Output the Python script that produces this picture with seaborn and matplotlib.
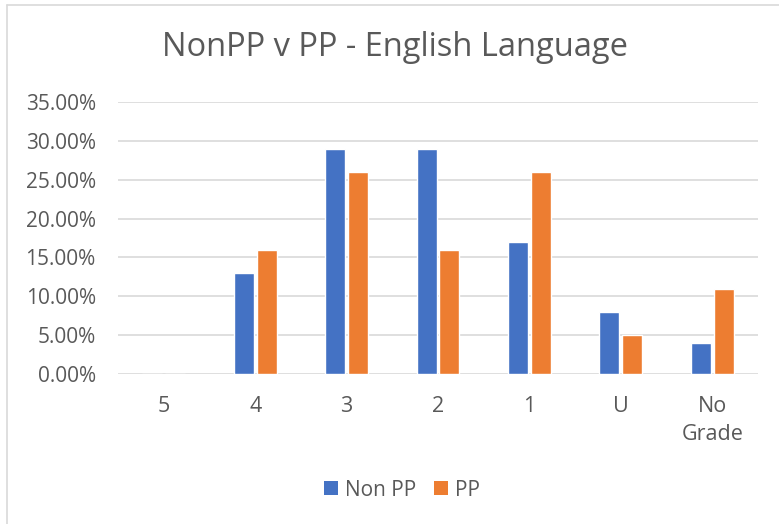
import pandas as pd
import numpy as np
import matplotlib.pyplot as plt
import seaborn as sns
from matplotlib.ticker import PercentFormatter
from matplotlib.lines import Line2D
from matplotlib.patches import Patch

# grades and share of pupils per grade
grades = ['5', '4', '3', '2', '1', 'U', 'No\nGrade']
non_pp = [0.00, 0.13, 0.29, 0.29, 0.17, 0.08, 0.04]
pp = [0.00, 0.16, 0.26, 0.16, 0.26, 0.05, 0.11]
series_names = ['Non PP', 'PP']
colours = ['#4472C4', '#ED7D31']
text_grey = '#595959'
grid_grey = '#D9D9D9'

df = pd.DataFrame({
    'grade': grades * 2,
    'share': non_pp + pp,
    'group': [series_names[0]] * len(grades) + [series_names[1]] * len(grades),
})

sns.set_theme(style='white')
plt.rcParams['font.family'] = ['Open Sans', 'DejaVu Sans']

fig = plt.figure(figsize=(7.79, 5.24), dpi=100)
ax = fig.add_axes([118 / 779, 1 - 374 / 524, 640 / 779, 272 / 524])

sns.barplot(data=df, x='grade', y='share', hue='group', order=grades,
            hue_order=series_names, palette=colours, width=0.5, gap=0.12,
            dodge=True, saturation=1, legend=False, ax=ax)

ax.set_ylim(0, 0.35)
ax.set_yticks(np.arange(0, 0.351, 0.05))
ax.yaxis.set_major_formatter(PercentFormatter(xmax=1, decimals=2))
ax.grid(axis='y', color=grid_grey, linewidth=1.2)
ax.set_axisbelow(True)
for s in ax.spines.values():
    s.set_visible(False)
ax.tick_params(axis='both', length=0)
ax.tick_params(axis='y', labelsize=15, labelcolor=text_grey, pad=16)
ax.tick_params(axis='x', labelsize=15.5, labelcolor=text_grey, pad=16)
for lbl in ax.get_xticklabels():
    lbl.set_linespacing(1.45)
    lbl.set_verticalalignment('top')
ax.set_xlabel('')
ax.set_ylabel('')
ax.set_xlim(-0.5, len(grades) - 0.5)

fig.text(395 / 779, 1 - 48 / 524, 'NonPP v PP - English Language',
         ha='center', va='center', fontsize=23.5, color=text_grey)

handles = [Patch(facecolor=c, edgecolor='none') for c in colours]
fig.legend(handles, series_names, loc='center', bbox_to_anchor=(402 / 779, 1 - 490 / 524),
           ncol=2, frameon=False, fontsize=15, labelcolor=text_grey,
           handlelength=0.68, handleheight=0.68, handletextpad=0.33, columnspacing=0.85)

# chart area border
fig.add_artist(Line2D([6.5 / 779, 6.5 / 779], [0, 1 - 4.5 / 524], transform=fig.transFigure,
                      color=grid_grey, linewidth=1.2))
fig.add_artist(Line2D([6.5 / 779, 1], [1 - 4.5 / 524, 1 - 4.5 / 524], transform=fig.transFigure,
                      color=grid_grey, linewidth=1.2))

fig.savefig('out.png', dpi=100, facecolor='white')
